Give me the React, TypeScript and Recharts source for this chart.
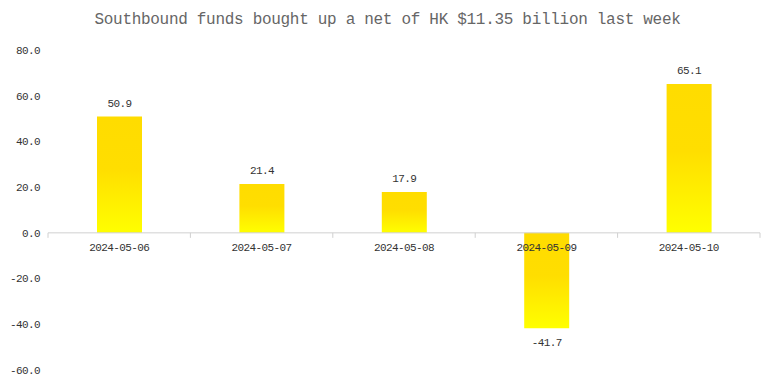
import React from "react";
import { BarChart, Bar, XAxis, YAxis, ReferenceLine, LabelList } from "recharts";

const TITLE = "Southbound funds bought up a net of HK $11.35 billion last week";
const categories = ["2024-05-06", "2024-05-07", "2024-05-08", "2024-05-09", "2024-05-10"];
const netBuy = [50.9, 21.4, 17.9, -41.7, 65.1];
const yTicks = [-60, -40, -20, 0, 20, 40, 60, 80];

const data = categories.map((date, i) => ({ date, value: netBuy[i] }));

const FONT = "'Liberation Mono', 'DejaVu Sans Mono', monospace";

const ZeroAxis = (props: any) => {
  const { x1, y1, x2 } = props;
  const n = categories.length;
  const step = (x2 - x1) / n;
  const items = [];
  for (let i = 0; i <= n; i++) {
    const x = x1 + i * step;
    items.push(<line key={"t" + i} x1={x} y1={y1} x2={x} y2={y1 + 5} stroke="#d0d0d0" strokeWidth={1} />);
  }
  categories.forEach((c, i) => {
    items.push(
      <text
        key={"l" + i}
        x={x1 + (i + 0.5) * step}
        y={y1 + 15}
        textAnchor="middle"
        dominantBaseline="middle"
        fill="#333"
        fontSize={11}
        letterSpacing={-0.6}
        fontFamily={FONT}
      >
        {c}
      </text>
    );
  });
  return (
    <g>
      <line x1={x1} y1={y1} x2={x2} y2={y1} stroke="#d0d0d0" strokeWidth={1} />
      {items}
    </g>
  );
};

export default function App() {
  return (
    <div style={{ position: "absolute", left: 0, top: 0, width: 775, height: 384, background: "#fff" }}>
      <div
        style={{
          position: "absolute",
          left: 0,
          top: 10,
          width: 775,
          textAlign: "center",
          fontFamily: FONT,
          fontSize: 16,
          letterSpacing: -0.3,
          color: "#666",
          lineHeight: "20px",
        }}
      >
        {TITLE}
      </div>
      <BarChart
        width={775}
        height={384}
        data={data}
        margin={{ top: 50, right: 15, bottom: 14, left: 0 }}
        barSize={45}
      >
        <defs>
          <linearGradient id="goldGrad" x1="0" y1="0" x2="0" y2="1">
            <stop offset="0%" stopColor="#FFDC00" />
            <stop offset="45%" stopColor="#FFDE00" />
            <stop offset="100%" stopColor="#FFFF00" />
          </linearGradient>
        </defs>
        <XAxis dataKey="date" type="category" hide />
        <YAxis
          width={48}
          domain={[-60, 80]}
          ticks={yTicks}
          axisLine={false}
          tickLine={false}
          tickFormatter={(v: number) => v.toFixed(1)}
          tick={{ fill: "#333", fontSize: 11, fontFamily: FONT, letterSpacing: -0.6 }}
          interval={0}
        />
        <Bar dataKey="value" fill="url(#goldGrad)" isAnimationActive={false}>
          <LabelList
            dataKey="value"
            position="top"
            offset={10}
            fill="#333"
            fontSize={11}
            fontFamily={FONT}
            letterSpacing={-0.6}
            formatter={(v: any) => Number(v).toFixed(1)}
          />
        </Bar>
        <ReferenceLine y={0} shape={ZeroAxis} ifOverflow="visible" />
      </BarChart>
    </div>
  );
}
